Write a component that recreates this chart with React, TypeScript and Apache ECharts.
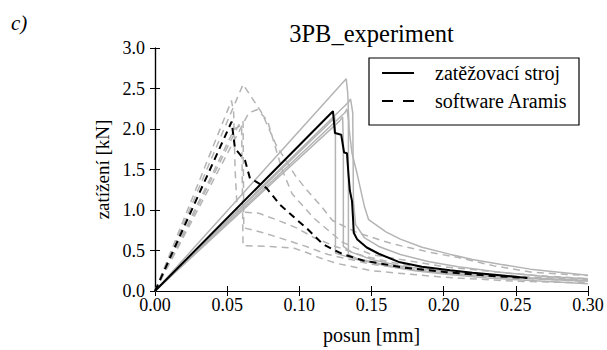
import React, { useEffect, useRef } from "react";
import * as echarts from "echarts";

type P = [number, number][];

// Black solid: loading machine (zatěžovací stroj)
const machineMain: P = [
  [0, 0], [0.1233, 2.22], [0.1247, 1.95], [0.129, 1.93], [0.131, 1.71], [0.133, 1.7],
  [0.134, 1.45], [0.135, 1.24], [0.1365, 1.11], [0.1372, 0.9], [0.1377, 0.72], [0.14, 0.64],
  [0.1467, 0.537], [0.155, 0.46], [0.1697, 0.354], [0.185, 0.3], [0.2044, 0.256],
  [0.22, 0.225], [0.239, 0.195], [0.2577, 0.162],
];

// Black dashed: software Aramis
const aramisMain: P = [
  [0, 0], [0.0531, 2.09], [0.0554, 1.76], [0.0624, 1.61], [0.0658, 1.39], [0.07, 1.35],
  [0.0773, 1.27], [0.0866, 1.065], [0.097, 0.9], [0.106, 0.76], [0.1164, 0.577],
  [0.13, 0.455], [0.144, 0.377], [0.172, 0.29], [0.202, 0.232], [0.23, 0.19], [0.258, 0.16],
];

// Gray solid: other machine measurements
const machineA: P = [
  [0, 0], [0.1325, 2.62], [0.1335, 2.45], [0.1345, 2.0], [0.1365, 1.7], [0.14, 1.45],
  [0.145, 1.05], [0.148, 0.88], [0.16, 0.73], [0.17, 0.64], [0.185, 0.54], [0.204, 0.455],
  [0.22, 0.39], [0.239, 0.33], [0.26, 0.27], [0.3, 0.195],
];
const machineB: P = [
  [0, 0], [0.1235, 2.12], [0.1245, 2.15], [0.125, 1.9], [0.125, 0.47], [0.13, 0.44],
  [0.14, 0.39], [0.16, 0.31], [0.18, 0.25], [0.2, 0.21], [0.23, 0.16], [0.26, 0.13], [0.3, 0.09],
];
const machineC: P = [
  [0, 0], [0.134, 2.33], [0.1355, 2.37], [0.137, 2.2], [0.1375, 1.1], [0.139, 0.82],
  [0.145, 0.66], [0.155, 0.55], [0.17, 0.45], [0.19, 0.36], [0.21, 0.3], [0.24, 0.23],
  [0.27, 0.18], [0.3, 0.15],
];
const machineD: P = [
  [0, 0], [0.1315, 2.2], [0.133, 2.25], [0.134, 2.1], [0.134, 0.45], [0.14, 0.4],
  [0.16, 0.32], [0.18, 0.26], [0.2, 0.22], [0.25, 0.16], [0.3, 0.12],
];
const machineE: P = [
  [0, 0], [0.128, 2.1], [0.13, 2.15], [0.1305, 1.8], [0.1305, 0.55], [0.136, 0.48],
  [0.15, 0.39], [0.17, 0.31], [0.2, 0.24], [0.25, 0.17], [0.3, 0.13],
];

// Gray dashed: other Aramis measurements
const aramisA: P = [
  [0, 0], [0.061, 2.55], [0.074, 2.2], [0.084, 1.8], [0.097, 1.43], [0.105, 1.25],
  [0.115, 1.05], [0.123, 0.87], [0.14, 0.72], [0.165, 0.58], [0.19, 0.48], [0.211, 0.41],
  [0.235, 0.31], [0.262, 0.23], [0.3, 0.19],
];
const aramisB: P = [
  [0, 0], [0.053, 2.35], [0.0545, 2.2], [0.0555, 1.5], [0.057, 0.98], [0.072, 0.96],
  [0.087, 0.86], [0.098, 0.78], [0.11, 0.66], [0.125, 0.55], [0.145, 0.43], [0.17, 0.33],
  [0.2, 0.25], [0.24, 0.19], [0.3, 0.14],
];
const aramisC: P = [
  [0, 0], [0.058, 2.05], [0.061, 2.1], [0.0615, 0.78], [0.075, 0.72], [0.089, 0.64],
  [0.103, 0.56], [0.12, 0.45], [0.15, 0.33], [0.2, 0.22], [0.25, 0.16], [0.3, 0.12],
];
const aramisD: P = [
  [0, 0], [0.055, 2.0], [0.06, 2.05], [0.061, 0.56], [0.08, 0.55], [0.096, 0.53],
  [0.105, 0.475], [0.114, 0.41], [0.126, 0.34], [0.15, 0.25], [0.2, 0.17], [0.25, 0.12], [0.3, 0.1],
];
const aramisE: P = [
  [0, 0], [0.065, 2.2], [0.071, 2.24], [0.078, 2.1], [0.083, 1.8], [0.088, 1.5],
  [0.095, 1.2], [0.1, 1.1], [0.11, 0.9], [0.13, 0.6], [0.15, 0.45], [0.2, 0.3],
  [0.25, 0.21], [0.3, 0.15],
];

const xTickInterval = 0.05;
const yTickInterval = 0.5;
const xRange = [0, 0.3];
const yRange = [0, 3.0];

const legendLabels = ["zatěžovací stroj", "software Aramis"];
const titleText = "3PB_experiment";
const panelLabel = "c)";
const xName = "posun [mm]";
const yName = "zatížení [kN]";

const FONT = "Liberation Serif";
const GRAY = "#b4b4b4";

export default function App() {
  const ref = useRef<HTMLDivElement>(null);
  useEffect(() => {
    if (!ref.current) return;
    const chart = echarts.init(ref.current, undefined, { renderer: "svg" });

    const grayLine = (name: string, data: P, dashed: boolean) => ({
      name,
      type: "line",
      data,
      showSymbol: false,
      symbol: "none",
      silent: true,
      lineStyle: { color: GRAY, width: 1.5, type: dashed ? [7, 5] : "solid" },
      z: 2,
    });

    const axisCommon = {
      type: "value",
      axisLine: { show: true, lineStyle: { color: "#000", width: 1.2 } },
      axisTick: { show: true, inside: true, length: 5, lineStyle: { color: "#000", width: 1 } },
      splitLine: { show: false },
    };

    chart.setOption({
      animation: false,
      backgroundColor: "#fff",
      textStyle: { fontFamily: FONT },
      grid: { left: 155, right: 19, top: 48, bottom: 56, containLabel: false },
      xAxis: [
        {
          ...axisCommon,
          min: xRange[0], max: xRange[1], interval: xTickInterval,
          position: "bottom",
          name: xName, nameLocation: "middle", nameGap: 34,
          nameTextStyle: { fontFamily: FONT, fontSize: 20, color: "#000" },
          axisLabel: {
            margin: 5, fontFamily: FONT, fontSize: 18, color: "#000",
            formatter: (v: number) => v.toFixed(2),
          },
        },
        {
          ...axisCommon,
          min: xRange[0], max: xRange[1], interval: xTickInterval,
          position: "top",
          axisLabel: { show: false },
        },
      ],
      yAxis: [
        {
          ...axisCommon,
          min: yRange[0], max: yRange[1], interval: yTickInterval,
          position: "left",
          name: yName, nameLocation: "middle", nameGap: 40, nameRotate: 90,
          nameTextStyle: { fontFamily: FONT, fontSize: 19, color: "#000" },
          axisLabel: {
            margin: 10, fontFamily: FONT, fontSize: 18, color: "#000",
            formatter: (v: number) => v.toFixed(1),
          },
        },
        {
          ...axisCommon,
          min: yRange[0], max: yRange[1], interval: yTickInterval,
          position: "right",
          axisLabel: { show: false },
        },
      ],
      series: [
        grayLine("m-a", machineA, false),
        grayLine("m-b", machineB, false),
        grayLine("m-c", machineC, false),
        grayLine("m-d", machineD, false),
        grayLine("m-e", machineE, false),
        grayLine("a-a", aramisA, true),
        grayLine("a-b", aramisB, true),
        grayLine("a-c", aramisC, true),
        grayLine("a-d", aramisD, true),
        grayLine("a-e", aramisE, true),
        {
          name: legendLabels[1], type: "line", data: aramisMain, showSymbol: false, symbol: "none",
          lineStyle: { color: "#000", width: 2, type: [7, 5] }, z: 5,
        },
        {
          name: legendLabels[0], type: "line", data: machineMain, showSymbol: false, symbol: "none",
          lineStyle: { color: "#000", width: 2, type: "solid" }, z: 6,
        },
      ],
      graphic: [
        {
          type: "text", x: 371.5, y: 33, z: 100,
          style: { text: titleText, fontFamily: FONT, fontSize: 24.5, fill: "#000", textAlign: "center", textVerticalAlign: "middle" },
        },
        {
          type: "text", x: 11, y: 23, z: 100,
          style: { text: panelLabel, fontFamily: FONT, fontSize: 21, fontStyle: "italic", fill: "#000", textAlign: "left", textVerticalAlign: "middle" },
        },
        {
          type: "group", z: 100,
          children: [
            { type: "rect", shape: { x: 369, y: 58, width: 210, height: 67 }, style: { fill: "#fff", stroke: "#000", lineWidth: 1.2 }, z: 100 },
            { type: "line", shape: { x1: 382, y1: 73, x2: 414, y2: 73 }, style: { stroke: "#000", lineWidth: 2 }, z: 101 },
            { type: "line", shape: { x1: 382, y1: 101, x2: 414, y2: 101 }, style: { stroke: "#000", lineWidth: 2, lineDash: [11, 10] }, z: 101 },
            { type: "text", x: 435, y: 73, z: 101, style: { text: legendLabels[0], fontFamily: FONT, fontSize: 20, fill: "#000", textVerticalAlign: "middle" } },
            { type: "text", x: 435, y: 101, z: 101, style: { text: legendLabels[1], fontFamily: FONT, fontSize: 20, fill: "#000", textVerticalAlign: "middle" } },
          ],
        },
      ],
    });
    return () => chart.dispose();
  }, []);
  return (
    <div
      ref={ref}
      style={{ position: "fixed", left: 0, top: 0, width: 607, height: 350, background: "#fff" }}
    />
  );
}
